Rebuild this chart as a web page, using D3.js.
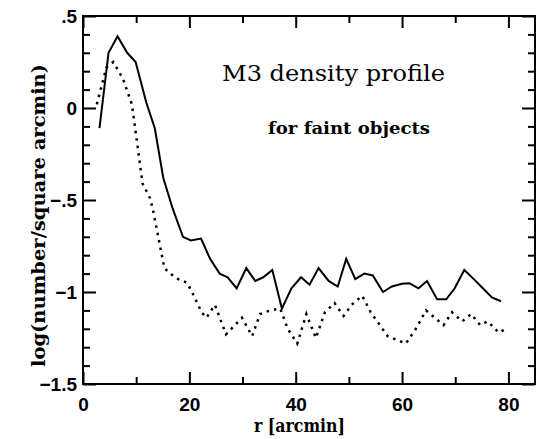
<!DOCTYPE html>
<html>
<head>
<meta charset="utf-8">
<script src="https://cdn.jsdelivr.net/npm/d3@7"></script>
<style>
  html, body { margin: 0; padding: 0; background: #fff; }
  svg { display: block; }
</style>
</head>
<body>
<div id="chart"></div>
<script>
// solid line: all objects (r in arcmin, log density)
const solidR = [3.1, 4.8, 6.5, 8.3, 9.9, 11.9, 13.5, 15.1, 16.9, 18.8, 20.3, 22.2, 23.9, 25.7, 27.2, 28.9,
  30.7, 32.4, 33.9, 35.6, 37.4, 39.2, 41.0, 42.6, 44.3, 46.2, 47.9, 49.5, 51.2, 52.9, 54.5, 56.4,
  58.1, 60.0, 61.4, 63.1, 64.7, 66.6, 68.3, 69.9, 71.7, 73.5, 75.2, 76.9, 78.6];
const solidLog = [-0.11, 0.30, 0.39, 0.30, 0.25, 0.03, -0.11, -0.38, -0.55, -0.70, -0.72, -0.71, -0.82, -0.90, -0.92, -0.98,
  -0.87, -0.94, -0.92, -0.88, -1.09, -0.98, -0.92, -0.96, -0.87, -0.94, -0.97, -0.82, -0.93, -0.90, -0.91, -1.00,
  -0.97, -0.955, -0.953, -0.98, -0.94, -1.04, -1.04, -0.98, -0.88, -0.93, -0.98, -1.03, -1.05];

// dotted line
const dottedR = [2.6, 4.4, 5.7, 7.5, 9.2, 11.2, 12.6, 13.2, 15.3, 16.4, 17.9, 19.6, 20.5, 22.3, 23.2, 24.8,
  26.9, 28.9, 29.9, 31.8, 33.3, 35.2, 37.1, 38.5, 40.3, 42.0, 43.8, 45.5, 47.3, 49.0, 50.5, 52.5,
  54.1, 57.3, 60.7, 62.6, 64.5, 67.8, 69.4, 71.3, 73.0, 74.7, 76.1, 78.2, 79.6];
const dottedLog = [0.02, 0.22, 0.25, 0.16, 0.02, -0.41, -0.49, -0.56, -0.87, -0.90, -0.93, -0.95, -1.00, -1.11, -1.14, -1.07,
  -1.23, -1.17, -1.14, -1.24, -1.12, -1.10, -1.09, -1.20, -1.28, -1.12, -1.25, -1.11, -1.06, -1.13, -1.07, -1.02,
  -1.11, -1.24, -1.28, -1.20, -1.10, -1.18, -1.11, -1.16, -1.12, -1.18, -1.16, -1.22, -1.20];

const xTicks = [0, 20, 40, 60, 80];
const xTickLabels = ["0", "20", "40", "60", "80"];
const yTicks = [0.5, 0, -0.5, -1, -1.5];
const yTickLabels = [".5", "0", "\u2212.5", "\u22121", "\u22121.5"];

const width = 539, height = 439;
const margin = {left: 83, right: 4, top: 16, bottom: 55};

const svg = d3.select("#chart").append("svg")
  .attr("width", width)
  .attr("height", height);

const x = d3.scaleLinear().domain([0, 85]).range([margin.left, width - margin.right]);
const y = d3.scaleLinear().domain([-1.5, 0.5]).range([height - margin.bottom, margin.top]);

const xMinor = d3.range(10, 85, 20);
const yMinor = d3.range(-14, 5).map(d => d / 10).filter(d => Math.abs(d * 2 - Math.round(d * 2)) > 1e-6);

const tickFont = "bold 19px 'Liberation Sans', Arial, sans-serif";

function styleAxis(g) {
  g.select(".domain").remove();
  g.selectAll(".tick line").attr("stroke", "#000").attr("stroke-width", 2);
  g.selectAll("text").style("font", tickFont).attr("fill", "#000");
}

// bottom
svg.append("g").attr("transform", `translate(0,${y(-1.5)})`)
  .call(d3.axisBottom(x).tickValues(xTicks).tickFormat((d, i) => xTickLabels[i]).tickSize(-12).tickPadding(14))
  .call(styleAxis);
svg.append("g").attr("transform", `translate(0,${y(-1.5)})`)
  .call(d3.axisBottom(x).tickValues(xMinor).tickFormat("").tickSize(-7))
  .call(styleAxis);
// top
svg.append("g").attr("transform", `translate(0,${y(0.5)})`)
  .call(d3.axisTop(x).tickValues(xTicks).tickFormat("").tickSize(-12))
  .call(styleAxis);
svg.append("g").attr("transform", `translate(0,${y(0.5)})`)
  .call(d3.axisTop(x).tickValues(xMinor).tickFormat("").tickSize(-7))
  .call(styleAxis);
// left
svg.append("g").attr("transform", `translate(${x(0)},0)`)
  .call(d3.axisLeft(y).tickValues(yTicks).tickFormat((d, i) => yTickLabels[i]).tickSize(-13).tickPadding(6))
  .call(styleAxis);
svg.append("g").attr("transform", `translate(${x(0)},0)`)
  .call(d3.axisLeft(y).tickValues(yMinor).tickFormat("").tickSize(-7))
  .call(styleAxis);
// right
svg.append("g").attr("transform", `translate(${x(85)},0)`)
  .call(d3.axisRight(y).tickValues(yTicks).tickFormat("").tickSize(-13))
  .call(styleAxis);
svg.append("g").attr("transform", `translate(${x(85)},0)`)
  .call(d3.axisRight(y).tickValues(yMinor).tickFormat("").tickSize(-7))
  .call(styleAxis);

// frame
svg.append("rect")
  .attr("x", x(0)).attr("y", y(0.5))
  .attr("width", x(85) - x(0)).attr("height", y(-1.5) - y(0.5))
  .attr("fill", "none").attr("stroke", "#000").attr("stroke-width", 2);

const line = d3.line().x(d => x(d[0])).y(d => y(d[1]));

svg.append("path")
  .datum(solidR.map((r, i) => [r, solidLog[i]]))
  .attr("d", line)
  .attr("fill", "none").attr("stroke", "#000").attr("stroke-width", 2)
  .attr("stroke-linejoin", "miter");

svg.append("path")
  .datum(dottedR.map((r, i) => [r, dottedLog[i]]))
  .attr("d", line)
  .attr("fill", "none").attr("stroke", "#000").attr("stroke-width", 2.5)
  .attr("stroke-dasharray", "2.5,5");

// texts
const serif = "'DejaVu Serif', 'Liberation Serif', serif";
svg.append("text")
  .attr("x", 222).attr("y", 81)
  .attr("textLength", 223).attr("lengthAdjust", "spacingAndGlyphs")
  .style("font", `22px ${serif}`)
  .text("M3 density profile");
svg.append("text")
  .attr("x", 268).attr("y", 134)
  .attr("textLength", 162).attr("lengthAdjust", "spacingAndGlyphs")
  .style("font", `bold 16px ${serif}`)
  .text("for faint objects");
svg.append("text")
  .attr("x", 254).attr("y", 432)
  .attr("textLength", 91).attr("lengthAdjust", "spacingAndGlyphs")
  .style("font", `bold 18px ${serif}`)
  .text("r [arcmin]");
svg.append("text")
  .attr("transform", `translate(45,367) rotate(-90)`)
  .attr("textLength", 303).attr("lengthAdjust", "spacingAndGlyphs")
  .style("font", `bold 18px ${serif}`)
  .text("log(number/square arcmin)");
</script>
</body>
</html>
